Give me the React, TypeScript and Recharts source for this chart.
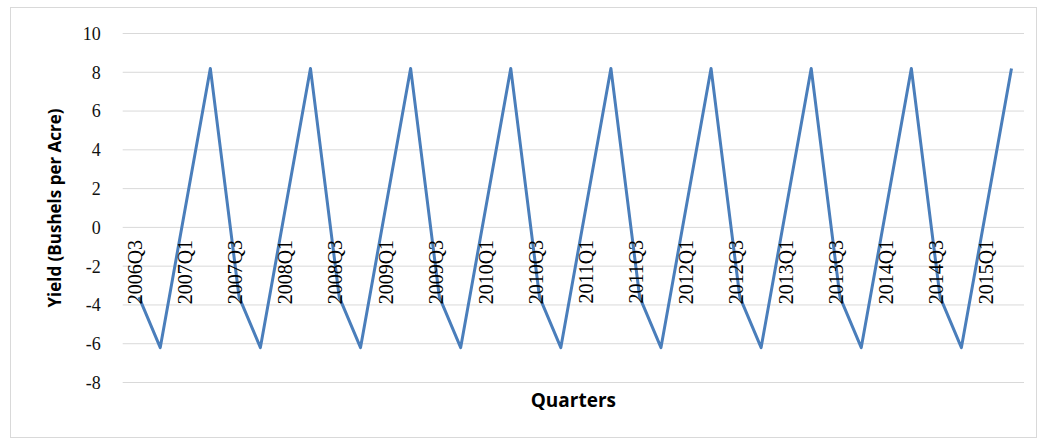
import { LineChart, Line, XAxis, YAxis, CartesianGrid } from 'recharts'

// quarter positions (0 = 2006Q3) and yields
const quarterPos = [0.15, 1, 3, 4.15, 5, 7, 8.15, 9, 11, 12.15, 13, 15, 16.15, 17, 19, 20.15, 21, 23, 24.15, 25, 27, 28.15, 29, 31, 32.15, 33, 35]
const yieldValues = [-3.6, -6.2, 8.2, -3.6, -6.2, 8.2, -3.6, -6.2, 8.2, -3.6, -6.2, 8.2, -3.6, -6.2, 8.2, -3.6, -6.2, 8.2, -3.6, -6.2, 8.2, -3.6, -6.2, 8.2, -3.6, -6.2, 8.2]

const tickQuarters = [0, 2, 4, 6, 8, 10, 12, 14, 16, 18, 20, 22, 24, 26, 28, 30, 32, 34]
const tickLabels = ['2006Q3', '2007Q1', '2007Q3', '2008Q1', '2008Q3', '2009Q1', '2009Q3', '2010Q1', '2010Q3', '2011Q1', '2011Q3', '2012Q1', '2012Q3', '2013Q1', '2013Q3', '2014Q1', '2014Q3', '2015Q1']
const yTicks = [-8, -6, -4, -2, 0, 2, 4, 6, 8, 10]

const data = quarterPos.map((q, i) => ({ q, value: yieldValues[i] }))

const WIDTH = 1043
const HEIGHT = 440
const PLOT_TOP = 33.5
const PLOT_BOTTOM = 382.5
const Y_MIN = -8
const Y_MAX = 10

// labels hang just below the zero line, like Excel does
const zeroY = PLOT_TOP + ((PLOT_BOTTOM - PLOT_TOP) * (Y_MAX - 0)) / (Y_MAX - Y_MIN)

function QuarterTick(props: any) {
    const { x, payload } = props
    const idx = tickQuarters.indexOf(payload.value)
    const ty = zeroY + 12.5
    return (
        <text
            x={x}
            y={ty}
            dy="0.35em"
            textAnchor="end"
            transform={`rotate(-90, ${x}, ${ty})`}
            fontFamily="'Liberation Serif', serif"
            fontSize={20}
            fill="#000"
        >
            {idx >= 0 ? tickLabels[idx] : ''}
        </text>
    )
}

export default function App() {
    return (
        <div style={{ position: 'absolute', left: 0, top: 0, width: WIDTH, height: HEIGHT, background: '#fff' }}>
            <div
                style={{
                    position: 'absolute',
                    left: 10,
                    top: 7,
                    width: 1025,
                    height: 429,
                    border: '1px solid #d9d9d9',
                }}
            />
            <LineChart
                width={WIDTH}
                height={HEIGHT}
                data={data}
                margin={{ top: PLOT_TOP, right: 19, left: 0, bottom: 0 }}
                style={{ position: 'absolute', left: 0, top: 0 }}
            >
                <CartesianGrid vertical={false} stroke="#d9d9d9" strokeWidth={1} />
                <XAxis
                    dataKey="q"
                    type="number"
                    domain={[-0.5, 35.5]}
                    ticks={tickQuarters}
                    interval={0}
                    height={HEIGHT - PLOT_BOTTOM}
                    axisLine={false}
                    tickLine={false}
                    tick={<QuarterTick />}
                    label={{
                        value: 'Quarters',
                        position: 'insideBottom',
                        offset: 33,
                        style: { fontFamily: "'Open Sans', sans-serif", fontWeight: 700, fontSize: 19, fill: '#000' },
                    }}
                />
                <YAxis
                    type="number"
                    domain={[Y_MIN, Y_MAX]}
                    ticks={yTicks}
                    interval={0}
                    width={122.7}
                    axisLine={false}
                    tickLine={false}
                    tickSize={0}
                    tickMargin={22}
                    tick={{ fontFamily: "'Liberation Serif', serif", fontSize: 18, fill: '#111' }}
                    label={{
                        value: 'Yield (Bushels per Acre)',
                        angle: -90,
                        position: 'insideLeft',
                        offset: 55,
                        style: { textAnchor: 'middle', fontFamily: "'Open Sans', sans-serif", fontWeight: 700, fontSize: 17, fill: '#000' },
                    }}
                />
                <Line
                    type="linear"
                    dataKey="value"
                    stroke="#4a7ebb"
                    strokeWidth={3}
                    strokeLinejoin="round"
                    dot={false}
                    activeDot={false}
                    isAnimationActive={false}
                />
            </LineChart>
        </div>
    )
}
